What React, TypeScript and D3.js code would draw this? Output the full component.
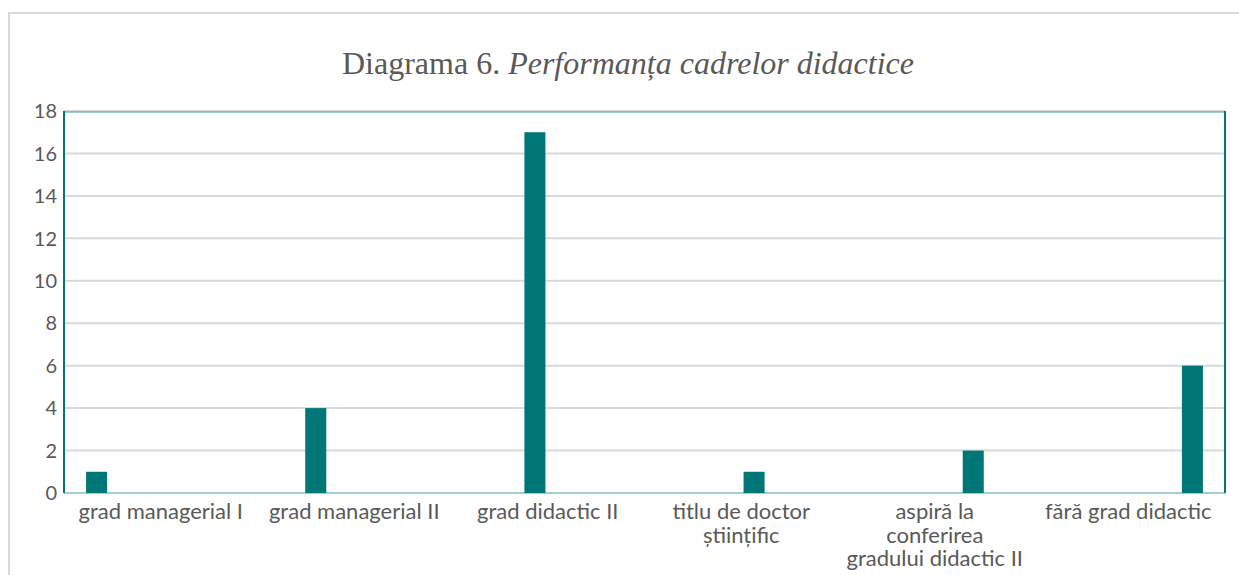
import React from 'react';
import * as d3 from 'd3';

// categories shown under the axis (each one also has its own series slot)
const categories = [
  'grad managerial I',
  'grad managerial II',
  'grad didactic II',
  'titlu de doctor științific',
  'aspiră la conferirea gradului didactic II',
  'fără grad didactic',
];
// how the labels wrap under the axis
const categoryLines = [
  ['grad managerial I'],
  ['grad managerial II'],
  ['grad didactic II'],
  ['titlu de doctor', 'științific'],
  ['aspiră la', 'conferirea', 'gradului didactic II'],
  ['fără grad didactic'],
];
// one value per category, every other series is empty there
const counts = [1, 4, 17, 1, 2, 6];
const yTicks = [0, 2, 4, 6, 8, 10, 12, 14, 16, 18];

const W = 1239;
const H = 575;
const plot = { left: 64, right: 1225, top: 111, bottom: 493 };
const teal = '#007777';
const textGray = '#595959';
const sans = "Lato, 'Open Sans', sans-serif";

export default function App() {
  const x0 = d3
    .scaleBand<string>()
    .domain(categories)
    .range([plot.left, plot.right])
    .padding(0);

  // series slots inside each category group
  const x1 = d3
    .scaleBand<string>()
    .domain(categories)
    .range([0, x0.bandwidth()])
    .paddingInner(0.18)
    .paddingOuter(0.86);

  const y = d3.scaleLinear().domain([0, 18]).range([plot.bottom, plot.top]);

  return (
    <svg
      width={W}
      height={H}
      style={{ position: 'absolute', left: 0, top: 0 }}
    >
      {/* outer chart frame, cut off by the window */}
      <rect x={9} y={13} width={1300} height={600} fill="#fff" stroke="#d9d9d9" strokeWidth={2} />

      <text
        x={628}
        y={74}
        textAnchor="middle"
        fontFamily="'Liberation Serif', 'Times New Roman', serif"
        fontSize={32}
        fill={textGray}
      >
        Diagrama 6. <tspan fontStyle="italic">Performanța cadrelor didactice</tspan>
      </text>

      {/* grid */}
      {yTicks.map((t) => (
        <line
          key={t}
          x1={plot.left}
          x2={plot.right}
          y1={y(t)}
          y2={y(t)}
          stroke="#d9d9d9"
          strokeWidth={2}
        />
      ))}

      {/* plot area border */}
      <line x1={plot.left} x2={plot.right} y1={plot.top + 1} y2={plot.top + 1} stroke="#3a9a9a" strokeWidth={1} />
      <line x1={plot.left} x2={plot.right} y1={plot.bottom} y2={plot.bottom} stroke="#9fcfcf" strokeWidth={2} />

      {/* bars */}
      {categories.map((c, i) => (
        <rect
          key={c}
          x={(x0(c) ?? 0) + (x1(categories[i]) ?? 0)}
          y={y(counts[i])}
          width={x1.bandwidth()}
          height={y(0) - y(counts[i])}
          fill={teal}
        />
      ))}

      <line x1={plot.left} x2={plot.left} y1={plot.top} y2={plot.bottom} stroke={teal} strokeWidth={2} />
      <line x1={plot.right} x2={plot.right} y1={plot.top} y2={plot.bottom} stroke={teal} strokeWidth={2} />

      {/* y tick labels */}
      {yTicks.map((t) => (
        <text
          key={t}
          x={57}
          y={y(t)}
          dy="0.36em"
          textAnchor="end"
          fontFamily={sans}
          fontSize={20}
          fill={textGray}
        >
          {t}
        </text>
      ))}

      {/* category labels */}
      {categories.map((c, i) => (
        <text
          key={c}
          x={(x0(c) ?? 0) + x0.bandwidth() / 2}
          y={519}
          textAnchor="middle"
          fontFamily={sans}
          fontSize={22}
          fill={textGray}
        >
          {categoryLines[i].map((ln, k) => (
            <tspan key={k} x={(x0(c) ?? 0) + x0.bandwidth() / 2} dy={k === 0 ? 0 : 23.5}>
              {ln}
            </tspan>
          ))}
        </text>
      ))}
    </svg>
  );
}
